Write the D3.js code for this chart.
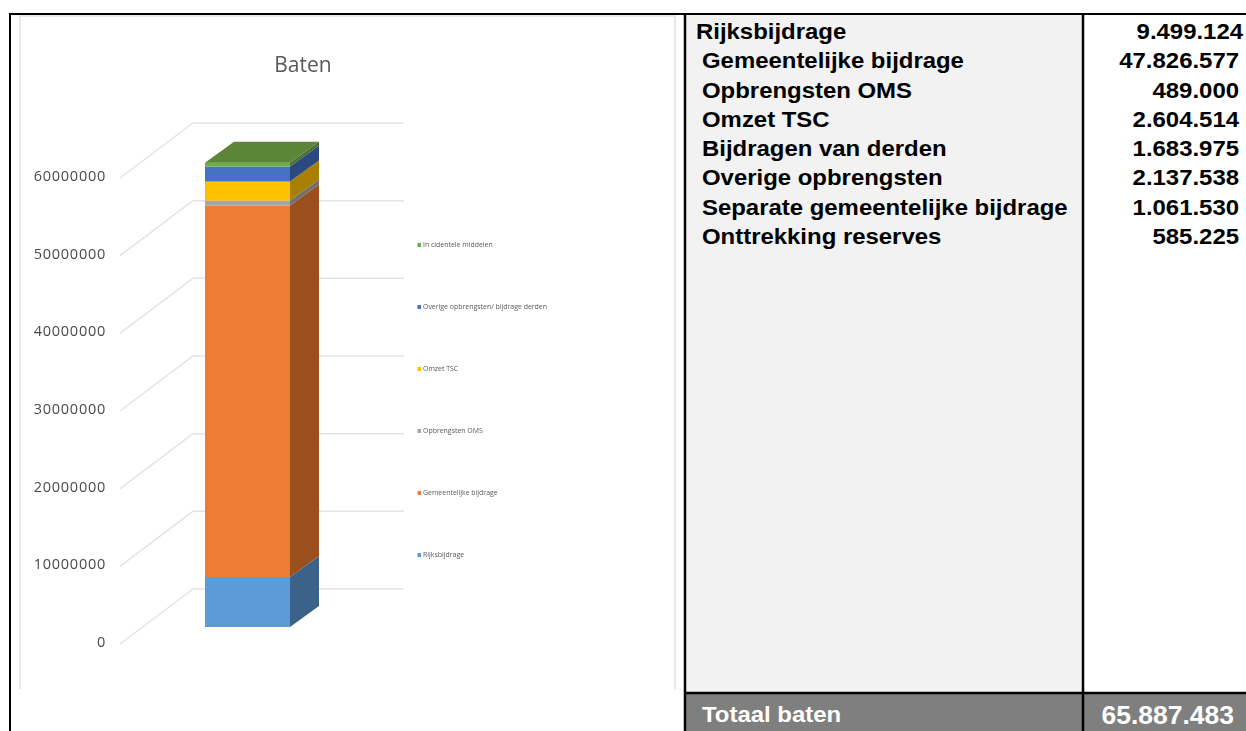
<!DOCTYPE html>
<html>

<head>
  <title>Baten</title>
  <script src="https://cdnjs.cloudflare.com/ajax/libs/d3/7.8.5/d3.min.js"></script>
  <style>
    body { margin: 0; background: white; }
    svg { display: block; }
  </style>
</head>

<body>
  <svg id="chart" width="1246" height="731"></svg>

  <script>
    // stack segments, bottom to top
    var seriesKeys = ['Rijksbijdrage', 'Gemeentelijke bijdrage', 'Opbrengsten OMS', 'Omzet TSC', 'Overige opbrengsten/ bijdrage derden', 'In cidentele middelen'];
    var seriesValues = [6440000, 47826577, 640000, 2450000, 1930000, 500000];
    var seriesColors = ['#5b9bd5', '#ed7d31', '#a5a5a5', '#ffc000', '#4472c4', '#70ad47'];
    var sideColors = ['#3a6489', '#9a4f1d', '#6f6f6f', '#a87f00', '#2a4a80', '#4a7030'];
    var topColor = '#5b8538';
    var axisTicks = [0, 10000000, 20000000, 30000000, 40000000, 50000000, 60000000];

    // table next to the chart
    var tableLabels = ['Rijksbijdrage', 'Gemeentelijke bijdrage', 'Opbrengsten OMS', 'Omzet TSC', 'Bijdragen van derden', 'Overige opbrengsten', 'Separate gemeentelijke bijdrage', 'Onttrekking reserves'];
    var tableValues = [9499124, 47826577, 489000, 2604514, 1683975, 2137538, 1061530, 585225];
    var tableTotal = 65887483;

    var svg = d3.select('#chart');

    var defs = svg.append('defs');
    defs.append('filter').attr('id', 'soft').append('feGaussianBlur').attr('stdDeviation', 0.45);
    defs.append('filter').attr('id', 'softer').append('feGaussianBlur').attr('stdDeviation', 0.55);

    // frame of the page table and of the pasted chart
    svg.append('rect').attr('x', 686).attr('y', 15).attr('width', 397).attr('height', 678).attr('fill', '#f2f2f2');
    svg.append('rect').attr('x', 686).attr('y', 693).attr('width', 560).attr('height', 38).attr('fill', '#7f7f7f');

    var frame = [
      [9, 14, 1246, 14, 2], [10, 14, 10, 731, 2], [685, 14, 685, 731, 2.5], [1083, 14, 1083, 731, 2.5], [685, 693, 1246, 693, 2.5]
    ];
    svg.selectAll('.frame')
      .data(frame)
      .enter()
      .append('line')
      .attr('class', 'frame')
      .attr('x1', d => d[0]).attr('y1', d => d[1])
      .attr('x2', d => d[2]).attr('y2', d => d[3])
      .attr('stroke', 'black')
      .attr('stroke-width', d => d[4]);

    svg.append('path')
      .attr('d', 'M20,689V16H675V689')
      .attr('fill', 'none')
      .attr('stroke', '#e2e2e2')
      .attr('stroke-width', 1.5);

    // chart
    var chart = svg.append('g').attr('filter', 'url(#soft)');

    var y = d3.scaleLinear().domain([0, 60000000]).range([644, 178]);

    var floorDx = 73, floorDy = -55;  // back wall offset of the 3D grid
    var barX = 205, barW = 85, barLift = -17;  // bar stands inside the floor
    var depthX = 29, depthY = -21;

    chart.append('text')
      .attr('x', 303)
      .attr('y', 72)
      .attr('text-anchor', 'middle')
      .attr('font-family', '"Open Sans", sans-serif')
      .attr('font-size', 21)
      .attr('fill', '#595959')
      .text('Baten');

    chart.selectAll('.grid')
      .data(axisTicks)
      .enter()
      .append('path')
      .attr('class', 'grid')
      .attr('fill', 'none')
      .attr('stroke', '#e3e3e3')
      .attr('stroke-width', 1.5)
      .attr('d', d => d3.line()([[120, y(d)], [120 + floorDx, y(d) + floorDy], [404, y(d) + floorDy]]));

    var axis = chart.append('g')
      .attr('transform', 'translate(106,-2)')
      .call(d3.axisLeft(y).tickValues(axisTicks).tickSize(0).tickPadding(0).tickFormat(d3.format('d')));
    axis.select('.domain').remove();
    axis.selectAll('text')
      .attr('font-family', '"Open Sans", sans-serif')
      .attr('font-size', 14.5)
      .attr('letter-spacing', 0.75)
      .attr('fill', '#4a4a4a');

    // stacked bar: a front and a side face per segment, then the lid
    var row = {};
    seriesKeys.forEach((k, i) => row[k] = seriesValues[i]);
    var layers = d3.stack().keys(seriesKeys)([row]);

    var bar = chart.selectAll('.segment')
      .data(layers)
      .enter()
      .append('g')
      .attr('class', 'segment');

    bar.append('path')
      .attr('fill', (d, i) => sideColors[i])
      .attr('d', d => {
        var y0 = y(d[0][0]) + barLift, y1 = y(d[0][1]) + barLift, x = barX + barW;
        return d3.line()([[x, y0], [x + depthX, y0 + depthY], [x + depthX, y1 + depthY], [x, y1]]) + 'Z';
      });

    bar.append('rect')
      .attr('x', barX)
      .attr('width', barW)
      .attr('y', d => y(d[0][1]) + barLift)
      .attr('height', d => y(d[0][0]) - y(d[0][1]))
      .attr('fill', (d, i) => seriesColors[i]);

    var barTop = y(d3.sum(seriesValues)) + barLift;
    chart.append('path')
      .attr('fill', topColor)
      .attr('d', d3.line()([[barX, barTop], [barX + depthX, barTop + depthY], [barX + barW + depthX, barTop + depthY], [barX + barW, barTop]]) + 'Z');

    // legend, top entry is the last series
    var legendY = d3.scalePoint().domain(seriesKeys).range([555, 245]);
    var legend = svg.append('g').attr('filter', 'url(#softer)');

    legend.selectAll('rect')
      .data(seriesKeys)
      .enter()
      .append('rect')
      .attr('x', 417.5)
      .attr('y', d => legendY(d) - 2)
      .attr('width', 3.5)
      .attr('height', 4)
      .attr('fill', (d, i) => seriesColors[i]);

    legend.selectAll('text')
      .data(seriesKeys)
      .enter()
      .append('text')
      .attr('x', 423)
      .attr('y', d => legendY(d) + 2)
      .attr('font-family', '"Open Sans", sans-serif')
      .attr('font-size', 6.95)
      .attr('fill', '#595959')
      .text(d => d);

    // table text, the source font runs wider than Liberation so it gets stretched
    var dutch = d3.formatLocale({ decimal: ',', thousands: '.', grouping: [3], currency: ['', ''] });
    var fmt = dutch.format(',d');
    var rowY = d3.scalePoint().domain(tableLabels).range([39, 244]);
    var place = (x, y) => 'translate(' + x + ',' + y + ') scale(1.05,1)';

    var table = svg.append('g')
      .attr('font-family', '"Liberation Sans", Arial, sans-serif')
      .attr('font-weight', 'bold')
      .attr('font-size', 22.8)
      .attr('fill', 'black');

    table.selectAll('.label')
      .data(tableLabels)
      .enter()
      .append('text')
      .attr('class', 'label')
      .attr('transform', (d, i) => place(i == 0 ? 696 : 702, rowY(d)))
      .text(d => d);

    table.selectAll('.value')
      .data(tableValues)
      .enter()
      .append('text')
      .attr('class', 'value')
      .attr('transform', (d, i) => place(i == 0 ? 1243 : 1239, rowY(tableLabels[i])))
      .attr('text-anchor', 'end')
      .text(d => fmt(d));

    table.append('text')
      .attr('transform', place(702, 722))
      .attr('fill', 'white')
      .text('Totaal baten');

    table.append('text')
      .attr('transform', place(1234, 724))
      .attr('text-anchor', 'end')
      .attr('fill', 'white')
      .attr('font-size', 25.2)
      .text(fmt(tableTotal));
  </script>
</body>

</html>
